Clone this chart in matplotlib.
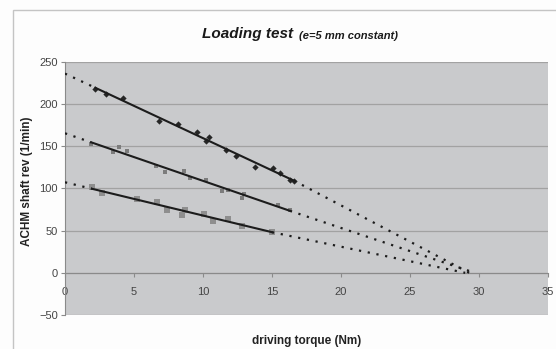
import numpy as np
import matplotlib.pyplot as plt
from matplotlib.patches import Rectangle

plt.rcParams['font.family'] = ['Liberation Sans', 'DejaVu Sans']

# measured points (driving torque Nm, shaft rev 1/min)
torque_1 = [2.2, 3.0, 4.2, 6.8, 8.2, 9.6, 10.2, 10.4, 11.7, 12.4, 13.8, 15.1, 15.6, 16.3, 16.6]
rev_1 = [218, 212, 207, 180, 176, 167, 156, 161, 146, 139, 126, 124, 118, 110, 109]

torque_2 = [1.9, 3.45, 3.9, 4.5, 6.6, 7.25, 8.6, 9.05, 10.2, 11.4, 11.8, 12.8, 13.0, 15.4, 16.3]
rev_2 = [153, 143, 149, 144, 127, 120, 121, 113, 110, 97, 98, 89, 94, 81, 75]

torque_3 = [1.95, 2.65, 5.25, 6.65, 7.4, 8.5, 8.7, 10.1, 10.7, 11.8, 12.85, 15.0]
rev_3 = [102, 95, 88, 84, 75, 68, 75, 70, 62, 64, 56, 49]

# torque where the extrapolated dotted lines hit zero rev
stall_torque = [29.3, 29.7, 29.0]

x_ticks = [0, 5, 10, 15, 20, 25, 30, 35]
y_ticks = [-50, 0, 50, 100, 150, 200, 250]

fig = plt.figure(figsize=(5.56, 3.49), dpi=100)
fig.patch.set_facecolor('#fdfdfd')
# chart area frame (runs off the right and bottom edges)
fig.patches.append(Rectangle((13 / 556, -0.1), 1.0, 0.1 + 1 - 10 / 349,
                             transform=fig.transFigure, fill=False,
                             edgecolor='#c4c4c4', lw=1.0))

ax = fig.add_axes([65 / 556, 1 - 315 / 349, 483 / 556, 253 / 349])
ax.set_facecolor('#c9cacc')

series = [
    (torque_1, rev_1, 'D', 3.2, '#262626', stall_torque[0]),
    (torque_2, rev_2, 's', 3.3, '#7c7c7c', stall_torque[1]),
    (torque_3, rev_3, 's', 4.3, '#8e8e8e', stall_torque[2]),
]

for tx, rv, mk, ms, col, stall in series:
    tx = np.array(tx)
    rv = np.array(rv)
    k, b = np.polyfit(tx, rv, 1)
    x0, x1 = tx.min(), tx.max()
    ax.plot(tx, rv, linestyle='none', marker=mk, markersize=ms,
            color=col, markeredgewidth=0, zorder=4)
    ax.plot([x0, x1], [k * x0 + b, k * x1 + b], color='#1c1c1c', lw=1.5, zorder=5)
    # dotted extrapolation back to the axis and forward to stall
    ax.plot([0, x0], [b, k * x0 + b], color='#1c1c1c', lw=1.6,
            linestyle=(0, (1, 3)), zorder=5)
    ax.plot([x1, stall], [k * x1 + b, 0], color='#1c1c1c', lw=1.6,
            linestyle=(0, (1, 3)), zorder=5)

ax.set_xlim(0, 35)
ax.set_ylim(-50, 250)
ax.set_xticks(x_ticks)
ax.set_yticks(y_ticks)
ax.yaxis.grid(True, color='#a2a2a2', lw=0.9)
ax.set_axisbelow(True)

for s in ['top', 'right']:
    ax.spines[s].set_visible(False)
ax.spines['bottom'].set_position(('data', 0))
ax.spines['bottom'].set_color('#8a8a8a')
ax.spines['left'].set_color('#8a8a8a')
ax.tick_params(axis='x', direction='out', length=3, pad=7, color='#8a8a8a',
               labelsize=8, labelcolor='#444444')
ax.tick_params(axis='y', direction='out', length=3, pad=2, color='#8a8a8a',
               labelsize=8, labelcolor='#444444')

ax.set_ylabel('ACHM shaft rev (1/min)', fontsize=8.5, fontweight='bold', color='#222222',
              va='center')
ax.yaxis.set_label_coords(-0.079, 0.53)
ax.set_xlabel('driving torque (Nm)', fontsize=8.5, fontweight='bold', color='#222222',
              va='center')
ax.xaxis.set_label_coords(0.5, -0.103)

title = fig.text(202 / 556, 0.891, 'Loading test', fontsize=11, fontweight='bold',
                 fontstyle='italic', color='#1a1a1a', va='baseline')
ax.annotate('(e=5 mm constant)', xy=(1, 0), xycoords=title, xytext=(4, 0),
            textcoords='offset points', va='bottom', fontsize=8,
            fontweight='bold', fontstyle='italic', color='#1a1a1a',
            annotation_clip=False)

fig.savefig('out.png', dpi=100)
